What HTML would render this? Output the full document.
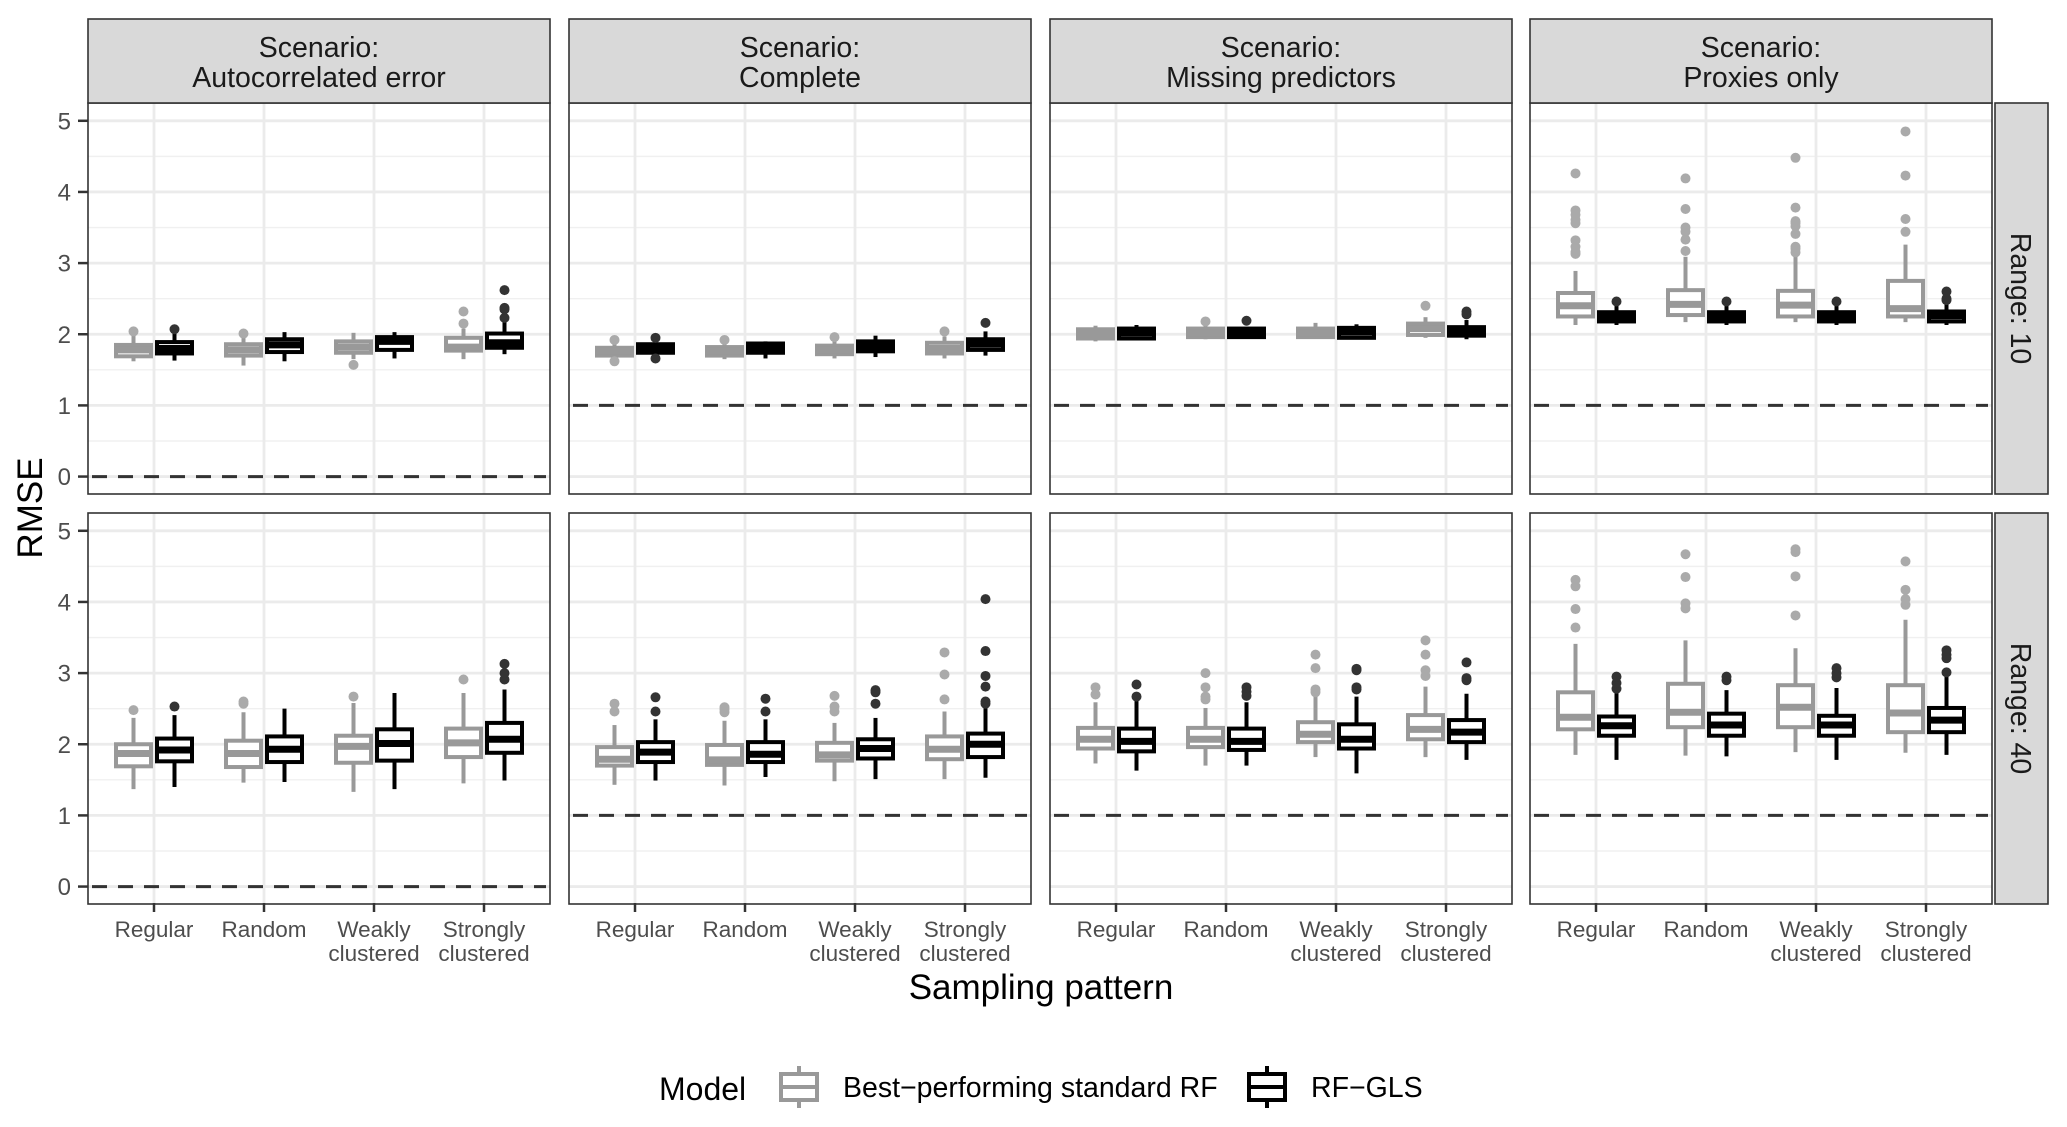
<!DOCTYPE html>
<html><head><meta charset="utf-8">
<style>
html,body{margin:0;padding:0;background:#fff;}
svg{display:block;font-family:"Liberation Sans",sans-serif;}
</style></head>
<body>
<svg id="chart" width="2067" height="1127" viewBox="0 0 2067 1127" xmlns="http://www.w3.org/2000/svg"></svg>
<script>
const categories = ["Regular","Random","Weakly\nclustered","Strongly\nclustered"];
const scenarios = ["Scenario:\nAutocorrelated error","Scenario:\nComplete","Scenario:\nMissing predictors","Scenario:\nProxies only"];
const ranges = ["Range: 10","Range: 40"];
const yTicks = [0,1,2,3,4,5];
const refLines = [0,1,1,1];
// stats per category: [lowWhisker, q1, median, q3, highWhisker]
const rf_r10_auto = [[1.62,1.69,1.78,1.85,2.0],[1.56,1.70,1.78,1.86,1.95],[1.65,1.74,1.82,1.90,2.02],[1.65,1.77,1.82,1.95,2.08]];
const gls_r10_auto = [[1.63,1.73,1.80,1.89,2.03],[1.62,1.75,1.85,1.93,2.03],[1.66,1.78,1.90,1.96,2.03],[1.72,1.81,1.88,2.01,2.2]];
const rf_r10_comp = [[1.66,1.70,1.76,1.81,1.88],[1.65,1.70,1.76,1.82,1.88],[1.66,1.72,1.78,1.84,1.93],[1.66,1.73,1.80,1.88,1.97]];
const gls_r10_comp = [[1.70,1.74,1.80,1.86,1.90],[1.66,1.74,1.80,1.87,1.90],[1.68,1.76,1.83,1.90,1.98],[1.70,1.78,1.86,1.93,2.04]];
const rf_r10_miss = [[1.90,1.94,2.00,2.07,2.12],[1.93,1.96,2.02,2.08,2.12],[1.94,1.96,2.02,2.08,2.16],[1.95,1.99,2.08,2.15,2.24]];
const gls_r10_miss = [[1.93,1.94,2.02,2.08,2.13],[1.94,1.96,2.03,2.08,2.10],[1.93,1.95,2.03,2.09,2.14],[1.93,1.98,2.05,2.10,2.20]];
const rf_r10_prox = [[2.13,2.25,2.40,2.58,2.89],[2.17,2.27,2.42,2.62,3.09],[2.17,2.25,2.41,2.61,3.10],[2.17,2.25,2.36,2.75,3.26]];
const gls_r10_prox = [[2.13,2.18,2.25,2.31,2.40],[2.13,2.18,2.25,2.31,2.40],[2.13,2.18,2.25,2.31,2.40],[2.13,2.18,2.26,2.32,2.42]];
const rf_r40_auto = [[1.37,1.69,1.87,2.0,2.37],[1.46,1.68,1.87,2.05,2.45],[1.33,1.74,1.97,2.12,2.58],[1.45,1.82,2.02,2.22,2.72]];
const gls_r40_auto = [[1.40,1.76,1.92,2.08,2.41],[1.47,1.75,1.93,2.11,2.50],[1.37,1.77,2.01,2.21,2.72],[1.49,1.88,2.07,2.30,2.77]];
const rf_r40_comp = [[1.43,1.70,1.79,1.96,2.27],[1.42,1.71,1.78,1.99,2.33],[1.48,1.77,1.85,2.02,2.30],[1.51,1.79,1.93,2.11,2.46]];
const gls_r40_comp = [[1.49,1.75,1.89,2.03,2.35],[1.54,1.75,1.86,2.03,2.35],[1.51,1.80,1.94,2.07,2.37],[1.53,1.82,2.00,2.15,2.56]];
const rf_r40_miss = [[1.73,1.94,2.07,2.23,2.59],[1.70,1.96,2.07,2.23,2.51],[1.82,2.03,2.14,2.31,2.71],[1.82,2.07,2.21,2.41,2.81]];
const gls_r40_miss = [[1.63,1.90,2.04,2.22,2.63],[1.70,1.92,2.04,2.22,2.59],[1.59,1.94,2.07,2.28,2.67],[1.78,2.03,2.17,2.34,2.71]];
const rf_r40_prox = [[1.85,2.21,2.38,2.73,3.41],[1.84,2.24,2.45,2.85,3.46],[1.89,2.24,2.52,2.83,3.35],[1.88,2.17,2.44,2.83,3.75]];
const gls_r40_prox = [[1.78,2.12,2.26,2.39,2.73],[1.83,2.12,2.27,2.43,2.76],[1.78,2.12,2.27,2.40,2.79],[1.85,2.17,2.34,2.51,2.95]];
// outliers per category
const rf_r10_auto_out = [[2.04],[2.01],[1.57],[2.15,2.32]];
const gls_r10_auto_out = [[2.07],[],[],[2.23,2.35,2.37,2.62]];
const rf_r10_comp_out = [[1.62,1.92],[1.92],[1.96],[2.04]];
const gls_r10_comp_out = [[1.66,1.95],[],[],[2.16]];
const rf_r10_miss_out = [[],[2.18],[],[2.40]];
const gls_r10_miss_out = [[],[2.19],[],[2.28,2.32]];
const rf_r10_prox_out = [[3.13,3.16,3.23,3.32,3.56,3.61,3.68,3.74,4.26],[3.17,3.33,3.44,3.50,3.76,4.19],[3.15,3.20,3.23,3.41,3.52,3.56,3.59,3.78,4.48],[3.44,3.62,4.23,4.85]];
const gls_r10_prox_out = [[2.46],[2.46],[2.46],[2.48,2.50,2.60]];
const rf_r40_auto_out = [[2.48],[2.57,2.60],[2.67],[2.91]];
const gls_r40_auto_out = [[2.53],[],[],[2.91,3.0,3.13]];
const rf_r40_comp_out = [[2.46,2.57],[2.45,2.49,2.52],[2.46,2.53,2.68],[2.63,2.98,3.29]];
const gls_r40_comp_out = [[2.46,2.66],[2.46,2.64],[2.57,2.73,2.76],[2.57,2.60,2.81,2.96,3.31,4.04]];
const rf_r40_miss_out = [[2.70,2.80],[2.63,2.67,2.80,3.0],[2.73,2.77,3.07,3.26],[2.96,3.04,3.26,3.46]];
const gls_r40_miss_out = [[2.67,2.84],[2.68,2.74,2.80],[2.77,2.80,3.04,3.06],[2.90,2.93,3.15]];
const rf_r40_prox_out = [[3.64,3.90,4.22,4.31],[3.91,3.98,4.35,4.67],[3.81,4.36,4.70,4.74],[3.96,4.04,4.17,4.57]];
const gls_r40_prox_out = [[2.78,2.86,2.95],[2.90,2.95],[2.94,3.0,3.07],[3.01,3.21,3.26,3.32]];

const rfStats = [[rf_r10_auto,rf_r10_comp,rf_r10_miss,rf_r10_prox],[rf_r40_auto,rf_r40_comp,rf_r40_miss,rf_r40_prox]];
const glsStats = [[gls_r10_auto,gls_r10_comp,gls_r10_miss,gls_r10_prox],[gls_r40_auto,gls_r40_comp,gls_r40_miss,gls_r40_prox]];
const rfOut = [[rf_r10_auto_out,rf_r10_comp_out,rf_r10_miss_out,rf_r10_prox_out],[rf_r40_auto_out,rf_r40_comp_out,rf_r40_miss_out,rf_r40_prox_out]];
const glsOut = [[gls_r10_auto_out,gls_r10_comp_out,gls_r10_miss_out,gls_r10_prox_out],[gls_r40_auto_out,gls_r40_comp_out,gls_r40_miss_out,gls_r40_prox_out]];

const svg = document.getElementById('chart');
const NS = 'http://www.w3.org/2000/svg';
function mk(tag, attrs, parent){ const e=document.createElementNS(NS,tag); for(const k in attrs) e.setAttribute(k,attrs[k]); (parent||svg).appendChild(e); return e; }

const panelX = [88,569,1050,1530];
const panelW = 462;
const rowTop = [103,513];
const rowH = 391;
const yMin = -0.245, yMax = 5.25;
function yScale(row, v){ return rowTop[row] + rowH*(yMax - v)/(yMax - yMin); }
function xScale(col, i){ return panelX[col] + panelW*(0.6 + i)/4.2; }

const GRAY='#999999', BLACK='#000000';

for(let r=0;r<2;r++){
  for(let c=0;c<4;c++){
    const g = mk('g',{});
    
    
    const x0=panelX[c], y0=rowTop[r];
    mk('rect',{x:x0,y:y0,width:panelW,height:rowH,fill:'#fff'},g);
    for(let v=0.5; v<5.3; v+=1){
      const y=yScale(r,v);
      mk('line',{x1:x0,x2:x0+panelW,y1:y,y2:y,stroke:'#f0f0f0','stroke-width':1.4},g);
    }
    for(const v of yTicks){
      const y=yScale(r,v);
      const gl = mk('line',{x1:x0,x2:x0+panelW,y1:y,y2:y,stroke:'#ebebeb','stroke-width':2.8},g);
      
      
    }
    for(let i=0;i<4;i++){
      const x=xScale(c,i);
      mk('line',{x1:x,x2:x,y1:y0,y2:y0+rowH,stroke:'#ebebeb','stroke-width':2.8},g);
    }
    const ry=yScale(r,refLines[c]);
    const ref = mk('line',{x1:x0+4,x2:x0+panelW-4,y1:ry,y2:ry,stroke:'#333','stroke-width':3,'stroke-dasharray':'15 11'},g);
    
    
    const models=[{st:rfStats,out:rfOut,col:GRAY,oc:'#aaaaaa',dx:-20.5,name:'rf'},{st:glsStats,out:glsOut,col:BLACK,oc:'#333333',dx:20.5,name:'rfgls'}];
    for(const m of models){
      for(let i=0;i<4;i++){
        const s=m.st[r][c][i];
        const cx=xScale(c,i)+m.dx;
        const bg=mk('g',{},g);
        
        
        mk('line',{x1:cx,x2:cx,y1:yScale(r,s[0]),y2:yScale(r,s[4]),stroke:m.col,'stroke-width':4},bg);
        const yq3=yScale(r,s[3]), yq1=yScale(r,s[1]);
        mk('rect',{x:cx-17.5,y:yq3,width:35,height:yq1-yq3,fill:'#fff',stroke:m.col,'stroke-width':4},bg);
        const ym=yScale(r,s[2]);
        mk('line',{x1:cx-17.5,x2:cx+17.5,y1:ym,y2:ym,stroke:m.col,'stroke-width':7},bg);
        for(const o of m.out[r][c][i]){
          const p=mk('circle',{cx:cx,cy:yScale(r,o),r:5,fill:m.oc},bg);
          
          
        }
      }
    }
    mk('rect',{x:x0,y:y0,width:panelW,height:rowH,fill:'none',stroke:'#333','stroke-width':1.6},g);
    if(c===0){
      for(const v of yTicks){
        const y=yScale(r,v);
        mk('line',{x1:78,x2:88,y1:y,y2:y,stroke:'#333','stroke-width':2.5},g);
        const t=mk('text',{x:71,y:y+8.5,'text-anchor':'end','font-size':24,fill:'#4d4d4d'},g);
        t.textContent=v;
        
        
      }
    }
    if(r===1){
      for(let i=0;i<4;i++){
        const x=xScale(c,i);
        mk('line',{x1:x,x2:x,y1:903,y2:912,stroke:'#333','stroke-width':2.5},g);
        const lines=categories[i].split('\n');
        lines.forEach((ln,k)=>{
          const t=mk('text',{x:x,y:937+k*24,'text-anchor':'middle','font-size':22.5,fill:'#4d4d4d'},g);
          t.textContent=ln;
          
          
        });
      }
    }
  }
}
for(let c=0;c<4;c++){
  const sg=mk('g',{});
  
  
  mk('rect',{x:panelX[c],y:19,width:panelW,height:84,fill:'#d9d9d9',stroke:'#333','stroke-width':1.6},sg);
  scenarios[c].split('\n').forEach((ln,k)=>{
    const t=mk('text',{x:panelX[c]+panelW/2,y:57+k*30,'text-anchor':'middle','font-size':28.5,fill:'#1a1a1a'},sg);
    t.textContent=ln;
  });
}
for(let r=0;r<2;r++){
  const sg=mk('g',{});
  
  
  mk('rect',{x:1995,y:rowTop[r],width:53,height:rowH,fill:'#d9d9d9',stroke:'#333','stroke-width':1.6},sg);
  const cy=rowTop[r]+rowH/2;
  const t=mk('text',{x:2021,y:cy,'text-anchor':'middle','font-size':28.5,fill:'#1a1a1a',transform:'rotate(90 2021 '+cy+')',dy:10},sg);
  t.textContent=ranges[r];
}
let t=mk('text',{x:42,y:508,'text-anchor':'middle','font-size':35,fill:'#000',transform:'rotate(-90 42 508)'});
t.textContent='RMSE';


t=mk('text',{x:1041,y:999,'text-anchor':'middle','font-size':35,fill:'#000'});
t.textContent='Sampling pattern';


const lg=mk('g',{});


t=mk('text',{x:659,y:1100,'font-size':32,fill:'#000'},lg);
t.textContent='Model';
function key(x,col,label,name){
  const kg=mk('g',{},lg);
  
  
  mk('line',{x1:x+20,x2:x+20,y1:1066,y2:1074,stroke:col,'stroke-width':4},kg);
  mk('line',{x1:x+20,x2:x+20,y1:1100,y2:1108,stroke:col,'stroke-width':4},kg);
  mk('rect',{x:x+2,y:1074,width:36,height:26,fill:'#fff',stroke:col,'stroke-width':4},kg);
  mk('line',{x1:x+2,x2:x+38,y1:1087,y2:1087,stroke:col,'stroke-width':4},kg);
  const tt=mk('text',{x:x+64,y:1097,'font-size':28.5,fill:'#000'},kg);
  tt.textContent=label;
}
key(779,GRAY,'Best\u2212performing standard RF','legend-entry-standard-rf');
key(1247,BLACK,'RF\u2212GLS','legend-entry-rf-gls');
</script>
</body></html>
